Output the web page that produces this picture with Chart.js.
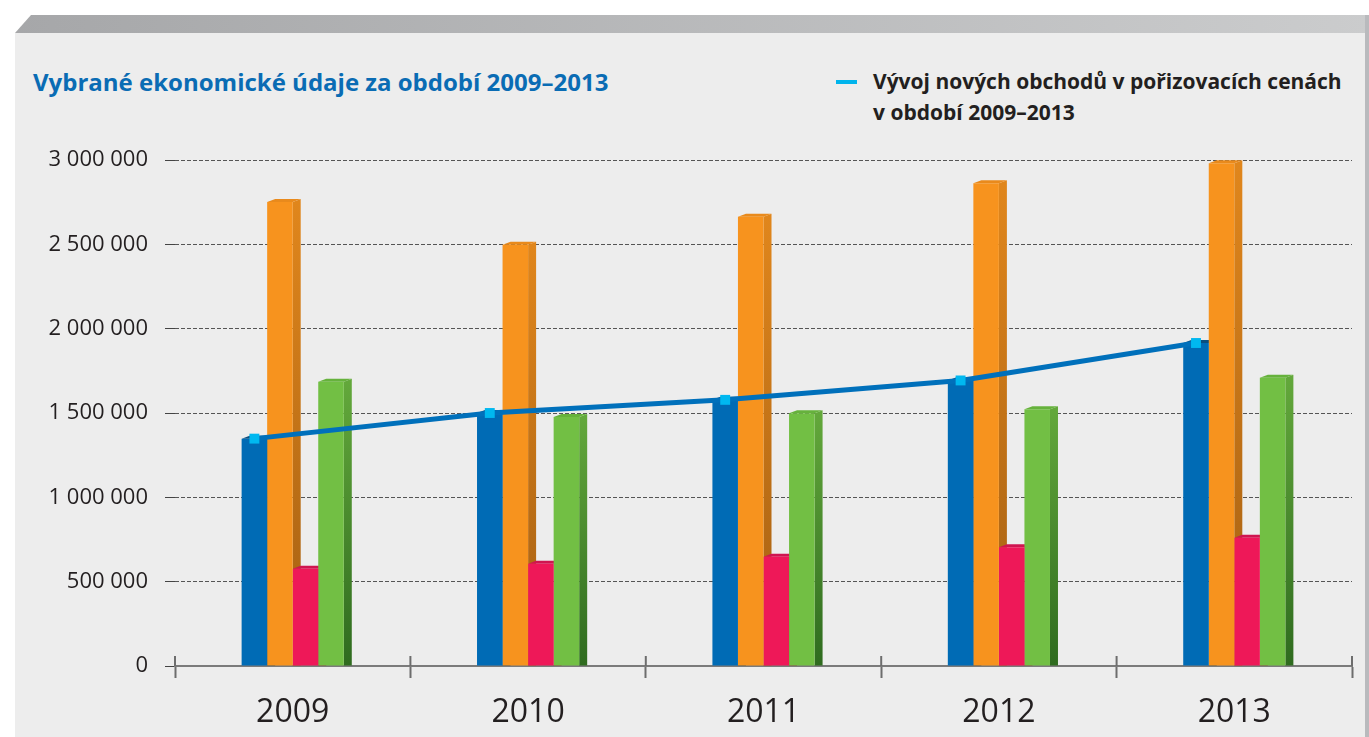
<!DOCTYPE html>
<html>
<head>
<meta charset="utf-8">
<script src="https://cdn.jsdelivr.net/npm/chart.js@4"></script>
<style>
  html, body { margin: 0; padding: 0; background: #fff; }
  body { width: 1369px; height: 737px; position: relative; overflow: hidden; font-family: 'Open Sans', sans-serif; }
  .bevel { position: absolute; left: 15px; top: 15px; width: 1354px; height: 18px;
    background: linear-gradient(to right, #a6a7a9, #cbcccd);
    clip-path: polygon(0 100%, 16px 0, 100% 0, 100% 100%); }
  .panel { position: absolute; left: 15px; top: 33px; width: 1350px; height: 704px; background: #ededed; }
  .edge { position: absolute; left: 1365px; top: 15px; width: 4px; height: 722px; background: #b9babd; }
  .title { position: absolute; left: 33px; top: 70px; font-size: 24px; line-height: 24px; font-weight: 700; color: #0a6cb4; white-space: nowrap; }
  .legend { position: absolute; left: 836px; top: 66px; color: #231f20; font-weight: 700; font-size: 21px; line-height: 31px; }
  .legend .mark { position: absolute; left: 0; top: 14px; width: 21px; height: 4px; background: #00b4ec; }
  .legend .txt { margin-left: 37px; white-space: nowrap; }
  #wrap { position: absolute; left: 0; top: 0; width: 1369px; height: 737px; }
</style>
</head>
<body>
<div class="bevel"></div>
<div class="panel"></div>
<div class="edge"></div>
<div class="title">Vybrané ekonomické údaje za období 2009–2013</div>
<div class="legend"><div class="mark"></div><div class="txt">Vývoj nových obchodů v pořizovacích cenách<br>v období 2009–2013</div></div>
<div id="wrap"><canvas id="chart"></canvas></div>
<script>
const years = ['2009', '2010', '2011', '2012', '2013'];
const modra = [1348000, 1500000, 1578000, 1693000, 1915000];
const oranzova = [2751000, 2497000, 2664000, 2862000, 2980000];
const ruzova = [577000, 606000, 648000, 704000, 761000];
const zelena = [1686000, 1477000, 1498000, 1522000, 1709000];
const vyvojObchodu = [1348000, 1500000, 1578000, 1693000, 1915000];
const yTicks = [0, 500000, 1000000, 1500000, 2000000, 2500000, 3000000];

const DX = 8, DY = 3;

// side and top faces, drawn before the fronts so the next bar covers them
const bar3d = {
    id: 'bar3d',
    beforeDatasetsDraw(chart) {
        const ctx = chart.ctx;
        chart.data.datasets.forEach((ds, i) => {
            if (ds.type === 'line') return;
            chart.getDatasetMeta(i).data.forEach(bar => {
                const p = bar.getProps(['x', 'y', 'base', 'width'], true);
                const l = p.x - p.width / 2, r = p.x + p.width / 2;
                const g = ctx.createLinearGradient(0, p.y, 0, p.base);
                g.addColorStop(0, ds.sideTop);
                g.addColorStop(1, ds.sideBottom);
                ctx.fillStyle = g;
                ctx.beginPath();
                ctx.moveTo(r, p.y);
                ctx.lineTo(r + DX, p.y - DY);
                ctx.lineTo(r + DX, p.base);
                ctx.lineTo(r, p.base);
                ctx.closePath();
                ctx.fill();
                ctx.fillStyle = ds.topColor;
                ctx.beginPath();
                ctx.moveTo(l, p.y);
                ctx.lineTo(l + DX, p.y - DY);
                ctx.lineTo(r + DX, p.y - DY);
                ctx.lineTo(r, p.y);
                ctx.closePath();
                ctx.fill();
            });
        });
    },
    // category ticks cross the axis line
    afterDraw(chart) {
        const ctx = chart.ctx, x = chart.scales.x, bottom = chart.chartArea.bottom;
        ctx.save();
        ctx.strokeStyle = '#6d6d6d';
        ctx.lineWidth = 2;
        for (let i = 0; i <= years.length; i++) {
            const px = x.getPixelForValue(i - 0.5);
            ctx.beginPath();
            ctx.moveTo(px, bottom - 10);
            ctx.lineTo(px, bottom);
            ctx.stroke();
        }
        ctx.restore();
    }
};

// the line sits on the blue bars, not on the category centre
const lineOnBlue = {
    id: 'lineOnBlue',
    afterDatasetsUpdate(chart) {
        const line = chart.getDatasetMeta(4);
        const blue = chart.getDatasetMeta(0);
        line.data.forEach((pt, i) => { pt.x = blue.data[i].x; });
    }
};

const ctx = document.getElementById('chart').getContext('2d');
new Chart(ctx, {
    type: 'bar',
    data: {
        labels: years,
        datasets: [
            { label: 'a', data: modra, backgroundColor: '#006bb5', order: 1,
              sideTop: '#004f86', sideBottom: '#003a63', topColor: '#0a4f80' },
            { label: 'b', data: oranzova, backgroundColor: '#f7931e', order: 1,
              sideTop: '#e0861c', sideBottom: '#a45f12', topColor: '#e98a1c' },
            { label: 'c', data: ruzova, backgroundColor: '#ee1858', order: 1,
              sideTop: '#c9124a', sideBottom: '#a00e3a', topColor: '#cf1550' },
            { label: 'd', data: zelena, backgroundColor: '#72bf44', order: 1,
              sideTop: '#63a83b', sideBottom: '#2f6b1f', topColor: '#66b23c' },
            { type: 'line', label: 'Vývoj nových obchodů v pořizovacích cenách v období 2009–2013',
              data: vyvojObchodu, order: 0, borderColor: '#0070bb', borderWidth: 5, tension: 0,
              pointStyle: 'rect', pointRadius: 7, pointBackgroundColor: '#00b8f0', pointBorderWidth: 0 }
        ]
    },
    options: {
        responsive: true,
        maintainAspectRatio: false,
        animation: false,
        layout: { padding: { top: 160, right: 17, left: 0, bottom: 0 } },
        datasets: { bar: { barPercentage: 1, categoryPercentage: 0.434 } },
        plugins: { legend: { display: false }, tooltip: { enabled: false } },
        scales: {
            x: {
                grid: { offset: true, drawOnChartArea: false, tickLength: 12, tickWidth: 2, tickColor: '#6d6d6d' },
                border: { color: '#7b7b7b', width: 2 },
                ticks: { color: '#231f20', font: { family: "'Open Sans', sans-serif", size: 32 }, padding: 16 },
                afterFit(scale) { scale.height = 71; }
            },
            y: {
                min: 0, max: 3000000,
                afterBuildTicks(scale) { scale.ticks = yTicks.map(v => ({ value: v })); },
                grid: { color: '#555', tickLength: 10, tickColor: '#444', tickBorderDash: [] },
                border: { display: false, dash: [4, 2] },
                ticks: {
                    color: '#231f20', padding: 17,
                    font: { family: "'Open Sans', sans-serif", size: 22 },
                    callback: v => v.toLocaleString('cs-CZ').replace(/\s/g, ' ')
                },
                afterFit(scale) { scale.width = 175; }
            }
        }
    },
    plugins: [bar3d, lineOnBlue]
});
</script>
</body>
</html>
